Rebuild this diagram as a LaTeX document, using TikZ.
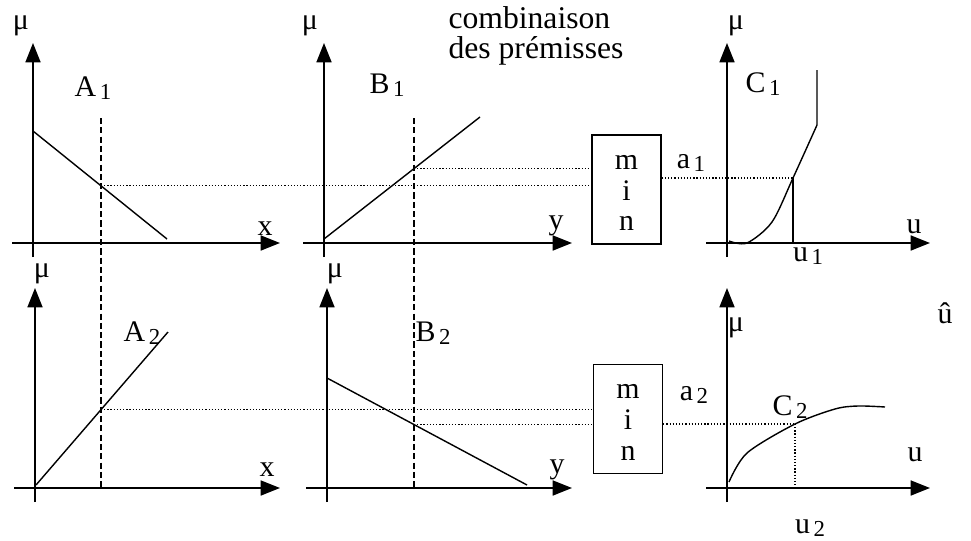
\documentclass[tikz,border=0pt]{standalone}
\usepackage{fontspec}
\setmainfont{Liberation Serif}
\usetikzlibrary{arrows.meta}
\usetikzlibrary{calc}
\usetikzlibrary{intersections}

% set label with a lowered index, e.g. A 1
\newcommand{\lbl}[2]{#1\hspace{2pt}\raisebox{-2pt}{\fontsize{13}{13}\selectfont #2}}

\begin{document}
\begin{tikzpicture}[x=0.02cm, y=-0.02cm,
    axis/.style={line width=1.1pt, -{Triangle[length=11pt,width=8.5pt]}},
    memb/.style={line width=0.8pt},
    cut/.style={line width=1.3pt, dash pattern=on 3.5pt off 1.8pt},
    level/.style={line width=0.6pt, dash pattern=on 0.7pt off 1.1pt},
    minbox/.style={draw, line width=0.8pt, minimum width=1.38cm, minimum height=2.18cm,
        align=center, inner sep=0pt, font=\fontsize{17}{17.5}\selectfont},
    lab/.style={font=\fontsize{17}{17}\selectfont, inner sep=0pt}]

\useasboundingbox (0,0) rectangle (971,541);

% --- axes of the six panels ---
\foreach \p/\ox/\oy/\len/\mx/\my in {
    a1/33/243/247/-12/26, b1/324/243/248/-14/26, c1/727/243/203/9/26,
    a2/35/488/245/7/274, b2/327/488/245/8/274, c2/727/488/203/9/328
} {
    \coordinate (\p-o) at (\ox,\oy);
    \draw[axis] (\ox,\oy+14) -- (\ox,\oy-200);
    \draw[axis] (\ox-21,\oy) -- (\ox+\len,\oy);
    \node[lab] (\p-mu) at (\ox+\mx,\my) {μ};
}

\node[lab] (xa1) at (265,229) {x};
\node[lab] (ya1) at (556,226) {y};
\node[lab] (ua1) at (914,227) {u};
\node[lab] (xa2) at (267,470) {x};
\node[lab] (ya2) at (557,470) {y};
\node[lab] (ua2) at (915,455) {u};

% --- inputs x and y ---
\coordinate (cutx) at (101,118);
\coordinate (cuty) at (414,118);
\draw[cut, name path=cx] (cutx) -- (cutx |- a2-o);
\draw[cut, name path=cy] (cuty) -- (cuty |- b2-o);

% --- premises ---
\draw[memb, name path=la1] (33,131) -- (167,239);
\draw[memb, name path=lb1] (324,239) -- (480,117);
\draw[memb, name path=la2] (36,485) -- (168,332);
\draw[memb, name path=lb2] (327,378) -- (527,485);

\node[lab] (tA1) at (93,88) {\lbl{A}{1}};
\node[lab] (tB1) at (387,85) {\lbl{B}{1}};
\node[lab] (tA2) at (142,333) {\lbl{A}{2}};
\node[lab] (tB2) at (433,333) {\lbl{B}{2}};

\node[font=\fontsize{18}{17}\selectfont, align=left, inner sep=0pt] (comb) at (536,36)
    {combinaison\\des prémisses};

% --- min of the two degrees ---
\node[minbox] (min1) at (626.5,189.5) {\rule{0pt}{12pt}m\\i\\n};
\node[minbox] (min2) at (628,419) {\rule{0pt}{12pt}m\\i\\n};

\path[name intersections={of=la1 and cx, by=pa1}];
\path[name intersections={of=lb1 and cy, by=pb1}];
\path[name intersections={of=la2 and cx, by=pa2}];
\path[name intersections={of=lb2 and cy, by=pb2}];

\draw[level] (pa1) -- (pa1 -| min1.west);
\draw[level] (pb1) -- (pb1 -| min1.west);
\draw[level] (pa2) -- (pa2 -| min2.west);
\draw[level] (pb2) -- (pb2 -| min2.west);

% --- conclusions ---
\coordinate (u1) at (793,178);
\draw[level] (min1.east |- u1) -- (u1);
\draw[memb, line width=0.7pt] (u1) -- (u1 |- c1-o);
\draw[memb] plot[smooth] coordinates {(729,241) (747,243) (772,222) (793,178) (817,125)} -- (817,70);

\coordinate (u2) at (795,424);
\draw[level] (min2.east |- u2) -- (u2);
\draw[level] (u2) -- (u2 |- c2-o);
\draw[memb] plot[smooth] coordinates {(729,482) (747,453) (795,424) (835,409) (858,406) (885,407)};

\node[lab] (ta1) at (691,163) {\lbl{a}{1}};
\node[lab] (ta2) at (694,395) {\lbl{a}{2}};
\node[lab] (tC1) at (763,84) {\lbl{C}{1}};
\node[lab] (tC2) at (790,407) {\lbl{C}{2}};
\node[lab] (tu1) at (808,256) {\lbl{u}{1}};
\node[lab] (tu2) at (810,528) {\lbl{u}{2}};
\node[lab] (uhat) at (945,313) {û};
\end{tikzpicture}
\end{document}
